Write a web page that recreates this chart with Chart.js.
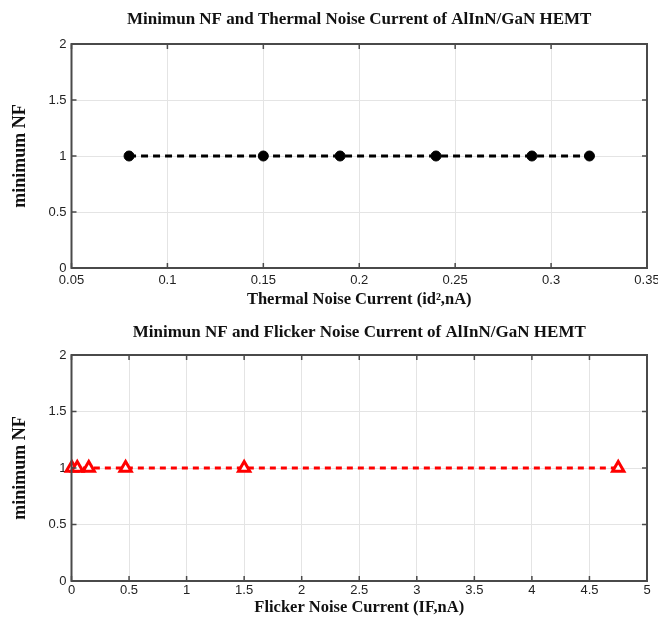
<!DOCTYPE html>
<html>
<head>
<meta charset="utf-8">
<script src="https://cdn.jsdelivr.net/npm/chart.js@4.4.1/dist/chart.umd.min.js"></script>
<style>
  body { margin: 0; background: #fff; }
  canvas { position: absolute; left: 0; }
</style>
</head>
<body>
<canvas id="thermalChart" width="658" height="318" style="top:0"></canvas>
<canvas id="flickerChart" width="658" height="305" style="top:318px"></canvas>
<script>
// Thermal noise current (id^2, nA) vs minimum NF
const thermalCurrent = [0.08, 0.15, 0.19, 0.24, 0.29, 0.32];
const thermalNF = [1, 1, 1, 1, 1, 1];
const thermalTicks = [0.05, 0.1, 0.15, 0.2, 0.25, 0.3, 0.35];

// Flicker noise current (IF, nA) vs minimum NF
const flickerCurrent = [0.003, 0.05, 0.15, 0.47, 1.5, 4.75];
const flickerNF = [1, 1, 1, 1, 1, 1];
const flickerTicks = [0, 0.5, 1, 1.5, 2, 2.5, 3, 3.5, 4, 4.5, 5];

const nfTicks = [0, 0.5, 1, 1.5, 2];

const serif = "'Liberation Serif', 'Times New Roman', serif";
const narrow = "'Liberation Sans Narrow', 'Arial Narrow', 'Liberation Sans', sans-serif";

// matlab style box with small ticks pointing inwards
const framePlugin = {
  id: "frame",
  afterDraw(chart) {
    const { ctx, chartArea: a, scales } = chart;
    ctx.save();
    ctx.strokeStyle = "#4a4a4a";
    ctx.lineWidth = 1.5;
    scales.x.ticks.forEach((t) => {
      const px = scales.x.getPixelForValue(t.value);
      ctx.beginPath();
      ctx.moveTo(px, a.bottom);
      ctx.lineTo(px, a.bottom - 5);
      ctx.moveTo(px, a.top);
      ctx.lineTo(px, a.top + 5);
      ctx.stroke();
    });
    scales.y.ticks.forEach((t) => {
      const py = scales.y.getPixelForValue(t.value);
      ctx.beginPath();
      ctx.moveTo(a.left, py);
      ctx.lineTo(a.left + 5, py);
      ctx.moveTo(a.right, py);
      ctx.lineTo(a.right - 5, py);
      ctx.stroke();
    });
    ctx.lineWidth = 2;
    ctx.strokeRect(a.left, a.top, a.right - a.left, a.bottom - a.top);
    ctx.restore();
  },
};

function makeChart(id, opts) {
  return new Chart(document.getElementById(id), {
    type: "scatter",
    data: {
      datasets: [
        {
          data: opts.xs.map((x, i) => ({ x: x, y: opts.ys[i] })),
          showLine: true,
          clip: false,
          borderColor: opts.color,
          borderWidth: 3,
          borderDash: opts.dash,
          pointStyle: opts.marker,
          pointRadius: opts.radius,
          pointBorderWidth: opts.markerBorder,
          pointBackgroundColor: opts.markerFill,
          pointBorderColor: opts.color,
        },
      ],
    },
    options: {
      responsive: false,
      animation: false,
      layout: { padding: { left: 0, right: 11, top: 0, bottom: 0 } },
      plugins: {
        legend: { display: false },
        tooltip: { enabled: false },
        title: {
          display: true,
          fullSize: false,
          text: opts.title,
          color: "#111",
          font: { family: serif, size: 17, weight: "bold" },
          padding: { top: opts.titleTop, bottom: opts.titleBottom },
        },
      },
      scales: {
        x: {
          type: "linear",
          min: opts.ticks[0],
          max: opts.ticks[opts.ticks.length - 1],
          afterBuildTicks: (s) => { s.ticks = opts.ticks.map((v) => ({ value: v })); },
          afterFit: (s) => {
            s.height = opts.xHeight;
            s.paddingLeft = 0;
            s.paddingRight = 0;
          },
          grid: { color: "#e4e4e4", drawTicks: false },
          border: { display: false },
          ticks: {
            color: "#222",
            padding: opts.tickPad,
            maxRotation: 0,
            font: { family: narrow, size: 13 },
            callback: (v) => String(v),
          },
          title: {
            display: true,
            text: opts.xTitle,
            color: "#111",
            font: { family: serif, size: 16.5, weight: "bold" },
            padding: { top: 0, bottom: opts.xTitlePad },
          },
        },
        y: {
          min: 0,
          max: 2,
          afterBuildTicks: (s) => { s.ticks = nfTicks.map((v) => ({ value: v })); },
          afterFit: (s) => { s.width = 71.5; },
          grid: { color: "#e4e4e4", drawTicks: false },
          border: { display: false },
          ticks: {
            color: "#222",
            padding: 5,
            font: { family: narrow, size: 13 },
            callback: (v) => String(v),
          },
          title: {
            display: true,
            text: "minimum NF",
            color: "#111",
            font: { family: serif, size: 18, weight: "bold" },
            padding: { top: 10, bottom: 0 },
          },
        },
      },
    },
    plugins: [framePlugin],
  });
}

makeChart("thermalChart", {
  xs: thermalCurrent,
  ys: thermalNF,
  ticks: thermalTicks,
  title: "Minimun NF and Thermal Noise Current of AlInN/GaN HEMT",
  xTitle: "Thermal Noise Current (id\u00b2,nA)",
  color: "#000",
  dash: [7, 5],
  marker: "circle",
  radius: 5,
  markerBorder: 1,
  markerFill: "#000",
  titleTop: 9.8,
  titleBottom: 13.8,
  xHeight: 50,
  tickPad: 5,
  xTitlePad: 8,
});

makeChart("flickerChart", {
  xs: flickerCurrent,
  ys: flickerNF,
  ticks: flickerTicks,
  title: "Minimun NF and Flicker Noise Current of AlInN/GaN HEMT",
  xTitle: "Flicker Noise Current (IF,nA)",
  color: "#ff0000",
  dash: [6, 5],
  marker: "triangle",
  radius: 6.5,
  markerBorder: 3,
  markerFill: "#fff",
  titleTop: 4.8,
  titleBottom: 11.8,
  xHeight: 42,
  tickPad: 2,
  xTitlePad: 5,
});
</script>
</body>
</html>
